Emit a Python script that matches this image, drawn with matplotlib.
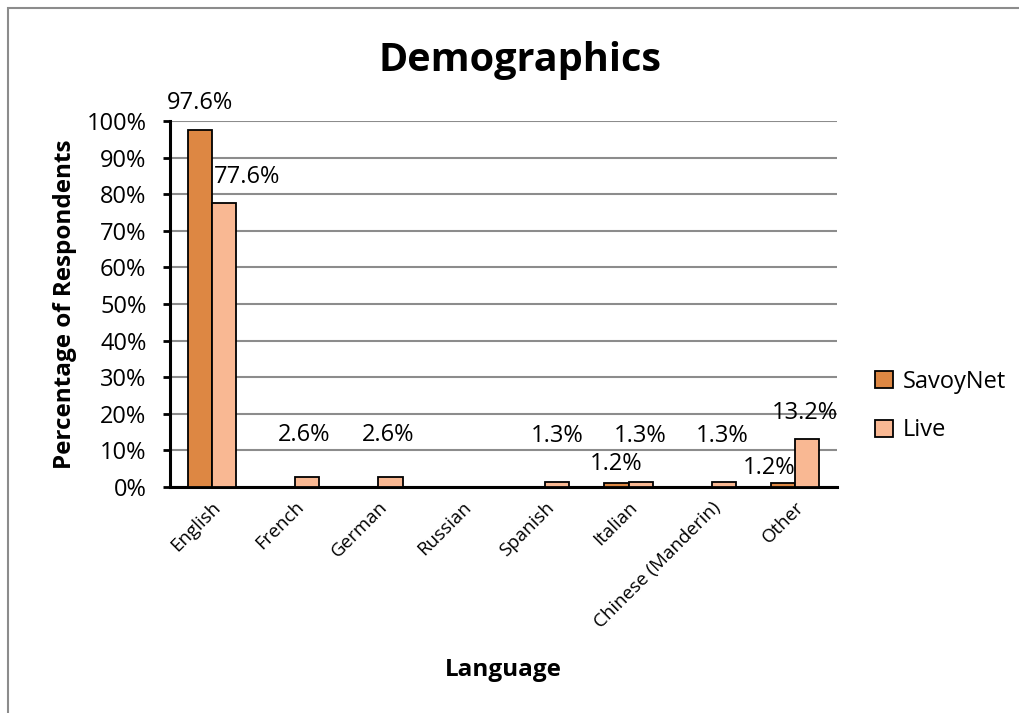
import numpy as np
import matplotlib.pyplot as plt
from matplotlib.patches import Rectangle

languages = ['English', 'French', 'German', 'Russian', 'Spanish', 'Italian',
             'Chinese (Manderin)', 'Other']
savoynet = [97.6, 0, 0, 0, 0, 1.2, 0, 1.2]
live = [77.6, 2.6, 2.6, 0, 1.3, 1.3, 1.3, 13.2]

c_savoy = '#DD8743'
c_live = '#F9B893'

plt.rcParams['font.family'] = ['Open Sans', 'DejaVu Sans']

fig = plt.figure(figsize=(10.2, 7.13), dpi=100)
ax = fig.add_axes([170 / 1020, 1 - 487 / 713, 667 / 1020, 366 / 713])

x = np.arange(len(languages))
w = 0.29
ax.bar(x - w / 2, savoynet, w, color=c_savoy, edgecolor='black', linewidth=1.3, label='SavoyNet', zorder=3)
ax.bar(x + w / 2, live, w, color=c_live, edgecolor='black', linewidth=1.3, label='Live', zorder=3)

# data labels (only non-zero), offsets in points as Excel placed them
off_savoy = {0: (0, 11), 5: (0, 5), 7: (-10, 2)}
off_live = {0: (17, 10), 1: (-2, 22), 2: (-2, 22), 4: (0, 25), 5: (0, 25), 6: (-1, 25), 7: (-2, 10)}
for i, v in enumerate(savoynet):
    if v > 0:
        dx, dy = off_savoy.get(i, (0, 10))
        ax.annotate(f'{v:.1f}%', (x[i] - w / 2, v), xytext=(dx, dy), textcoords='offset points',
                    ha='center', va='bottom', fontsize=17)
for i, v in enumerate(live):
    if v > 0:
        dx, dy = off_live.get(i, (0, 10))
        ax.annotate(f'{v:.1f}%', (x[i] + w / 2, v), xytext=(dx, dy), textcoords='offset points',
                    ha='center', va='bottom', fontsize=17)

ax.set_xlim(-0.5, len(languages) - 0.5)
ax.set_ylim(0, 100)
ax.set_yticks(np.arange(0, 101, 10))
ax.set_yticklabels([f'{t}%' for t in range(0, 101, 10)], fontsize=17)
ax.set_xticks(x)
ax.set_xticklabels(languages, rotation=45, ha='right', rotation_mode='anchor', fontsize=13.5)
ax.tick_params(axis='x', length=0, pad=8)
ax.tick_params(axis='y', length=5, width=2, direction='out', pad=12)
ax.grid(axis='y', color='#8c8c8c', linewidth=1.5, zorder=0)
ax.set_axisbelow(True)
for s in ['top', 'right']:
    ax.spines[s].set_visible(False)
ax.spines['left'].set_linewidth(2.2)
ax.spines['bottom'].set_linewidth(2.2)

ax.set_ylabel('Percentage of Respondents', fontsize=17.5, fontweight='bold', labelpad=7)
ax.set_xlabel('Language', fontsize=17.5, fontweight='bold', labelpad=19)
fig.text(520 / 1020, 1 - 61 / 713, 'Demographics', ha='center', va='center', fontsize=28.5, fontweight='bold')

ax.legend(loc='center left', bbox_to_anchor=(854 / 1020, 1 - 406 / 713), bbox_transform=fig.transFigure,
          frameon=False, fontsize=17, handlelength=0.75, handleheight=0.75, labelspacing=1.05, handletextpad=0.4)

fig.patches.append(Rectangle((8 / 1020, -0.01), 1.02, 1 - 8 / 713 + 0.01, transform=fig.transFigure,
                             fill=False, edgecolor='#8c8c8c', linewidth=1.5))

fig.savefig('out.png', dpi=100)
